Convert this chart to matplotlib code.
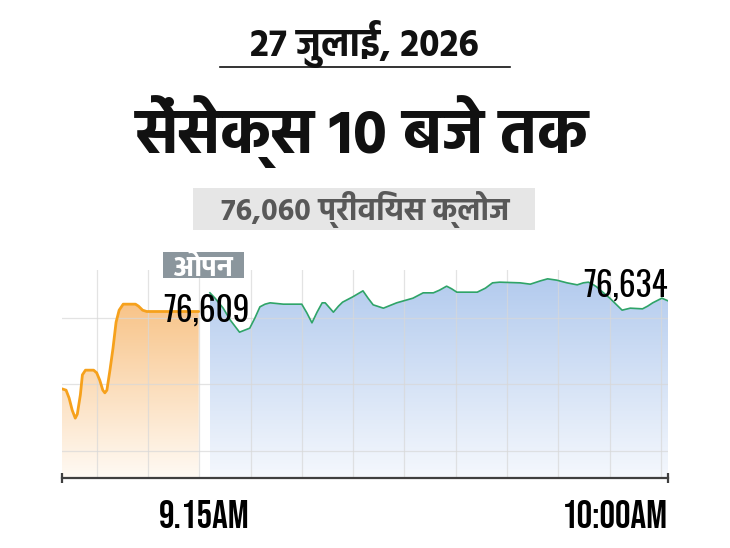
import matplotlib
matplotlib.use("Agg")
import matplotlib.pyplot as plt
import numpy as np
from matplotlib.patches import Rectangle
from matplotlib.colors import LinearSegmentedColormap

# minutes from 9:15, index value
pre_open_min = [-14.4, -14.0, -13.7, -13.4, -13.1, -12.9, -12.6, -12.4, -12.1, -11.3,
                -11.0, -10.7, -10.4, -10.2, -10.0, -9.7, -9.4, -9.1, -8.8, -8.4,
                -7.2, -6.9, -6.5, -6.1, -1.0]
pre_open_val = [76493, 76491, 76479, 76461, 76449, 76455, 76484, 76514, 76521, 76521,
                76517, 76506, 76491, 76487, 76491, 76521, 76554, 76593, 76611, 76620,
                76620, 76617, 76611, 76609, 76609]

session_min = [0.1, 0.6, 1.4, 2.1, 3.0, 4.0, 4.5, 5.0, 5.5, 6.0,
               7.3, 9.1, 9.6, 10.1, 10.6, 11.1, 11.4, 12.2, 12.7, 13.1,
               14.1, 15.1, 15.6, 16.1, 17.1, 18.4, 20.0, 21.0, 22.0, 22.6,
               23.3, 23.8, 24.3, 26.3, 27.1, 27.8, 28.5, 30.5, 31.5, 32.5,
               33.2, 34.1, 35.1, 36.1, 36.7, 37.2, 37.6, 38.0, 38.6, 39.3,
               39.9, 40.5, 41.3, 42.5, 43.0, 43.5, 44.4, 45.0]
session_val = [76637, 76629, 76614, 76596, 76578, 76584, 76599, 76616, 76620, 76622,
               76620, 76620, 76607, 76592, 76608, 76622, 76622, 76608, 76617, 76623,
               76631, 76640, 76629, 76619, 76614, 76622, 76629, 76637, 76637, 76641,
               76647, 76643, 76638, 76638, 76644, 76652, 76653, 76652, 76650, 76655,
               76658, 76656, 76652, 76649, 76652, 76653, 76650, 76646, 76638, 76629,
               76620, 76611, 76614, 76613, 76617, 76622, 76629, 76625]

date_text = "27 जुलाई, 2026"
title_text = "सेंसेक्स 10 बजे तक"
prev_close_text = "76,060 प्रीवियस क्लोज"
open_tag = "ओपन"
open_label = "76,609"
last_label = "76,634"
start_tick = "9.15AM"
end_tick = "10:00AM"

W, H = 730, 548


def fx(x):
    return x / W


def fy(y):
    return 1 - y / H


fig = plt.figure(figsize=(7.3, 5.48), dpi=100)
fig.patch.set_facecolor("white")

# header
fig.text(fx(364), fy(56), date_text, ha="center", va="baseline",
         family="Hind", weight="bold", fontsize=27, color="#111111")
fig.add_artist(plt.Line2D([fx(220), fx(510)], [fy(66.5), fy(66.5)],
                          color="#111111", lw=1.2, transform=fig.transFigure))
fig.text(fx(362), fy(153), title_text, ha="center", va="baseline",
         family="Hind", weight="bold", fontsize=45, color="#111111")
fig.add_artist(Rectangle((fx(193), fy(230)), fx(342), 42 / H, transform=fig.transFigure,
                         facecolor="#e6e6e6", edgecolor="none"))
fig.text(fx(365), fy(220.5), prev_close_text, ha="center", va="baseline",
         family="Hind", weight="bold", fontsize=22, color="#585858")

# chart
ax = fig.add_axes([fx(62), fy(478), fx(606), (478 - 270) / H])
ax.set_facecolor("none")


def gradient_fill(x, y, top_color, bottom_color):
    x = np.asarray(x)
    y = np.asarray(y)
    y0 = 76359.25
    poly = ax.fill_between(x, y, y0, facecolor="none", edgecolor="none")
    cmap = LinearSegmentedColormap.from_list("g", [bottom_color, top_color])
    grad = np.linspace(0, 1, 256).reshape(-1, 1)
    im = ax.imshow(grad, cmap=cmap, aspect="auto", origin="lower",
                   extent=[x.min(), x.max(), y0, y.max()], zorder=1)
    im.set_clip_path(poly.get_paths()[0], transform=ax.transData)


gradient_fill(pre_open_min, pre_open_val, "#f8c489", "#fffaf4")
gradient_fill(session_min, session_val, "#b3cbee", "#f5f8fd")
ax.set_xlim(-14.4, 45.0)
ax.set_ylim(76359.25, 76671.25)

for gx in np.linspace(-11.0, 44.3, 12):
    ax.axvline(gx, color="#d8d8d8", lw=0.9, alpha=0.7, zorder=2)
for gy in [76400, 76500, 76600]:
    ax.axhline(gy, color="#d8d8d8", lw=0.9, alpha=0.7, zorder=2)

ax.plot(pre_open_min, pre_open_val, color="#f6a11c", lw=2.0,
        solid_joinstyle="round", solid_capstyle="round", zorder=3)
ax.plot(session_min, session_val, color="#2fa468", lw=1.2,
        solid_joinstyle="round", zorder=3)

for s in ["top", "right", "left"]:
    ax.spines[s].set_visible(False)
ax.spines["bottom"].set_color("#3f3f3f")
ax.spines["bottom"].set_linewidth(1.6)
ax.spines["bottom"].set_zorder(4)
ax.set_xticks([])
ax.set_yticks([])
ax.plot([-14.4, 45.0], [76359.25, 76359.25], ls="none", marker="|", ms=7, mew=1.6,
        color="#3f3f3f", clip_on=False, zorder=5)

# labels
fig.add_artist(Rectangle((fx(163), fy(278)), fx(81), 26 / H, transform=fig.transFigure,
                         facecolor="#8b969d", edgecolor="none"))
fig.text(fx(203.5), fy(276), open_tag, ha="center", va="baseline",
         family="Mukta", weight="heavy", fontsize=21, color="white")
fig.text(fx(163), fy(322), open_label, ha="left", va="baseline",
         family="Oswald", fontsize=24, color="black")
fig.text(fx(668), fy(297), last_label, ha="right", va="baseline",
         family="Oswald", fontsize=24, color="black")
fig.text(fx(204), fy(528), start_tick, ha="center", va="baseline",
         family="Bebas Neue", fontsize=28, color="black")
fig.text(fx(668), fy(528), end_tick, ha="right", va="baseline",
         family="Bebas Neue", fontsize=28, color="black")

fig.savefig("out.png", dpi=100, facecolor="white")
